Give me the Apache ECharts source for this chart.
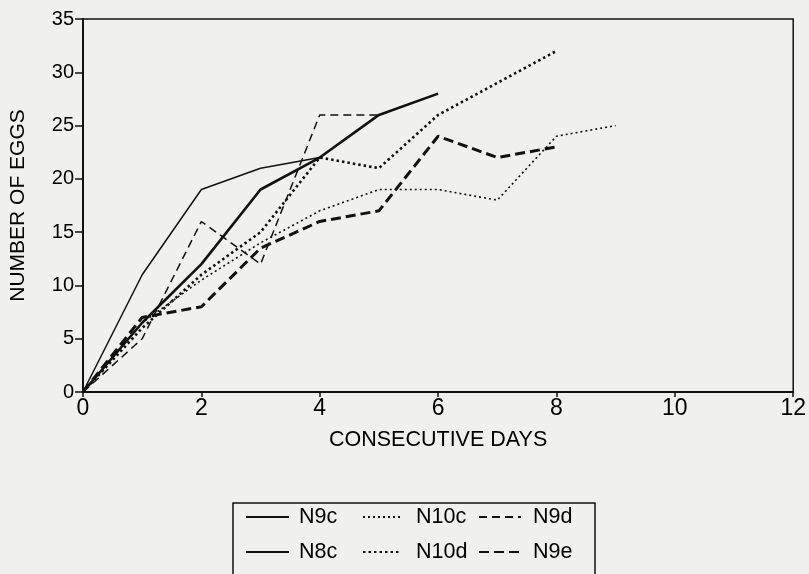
<!DOCTYPE html>
<html>
<head>
<meta charset="utf-8">
<script src="https://cdn.jsdelivr.net/npm/echarts@6/dist/echarts.min.js"></script>
<style>
  html, body { margin: 0; padding: 0; background: #f0f0ee; }
  #chart { width: 809px; height: 574px; }
</style>
</head>
<body>
<div id="chart"></div>
<script>
// days since start
const days = [0, 1, 2, 3, 4, 5, 6, 7, 8, 9]
const n9c = [0, 11, 19, 21, 22]
const n8c = [0, 6.5, 12, 19, 22, 26, 28]
const n10c = [0, 6.5, 10.5, 14, 17, 19, 19, 18, 24, 25]
const n10d = [0, 6, 11, 15, 22, 21, 26, 29, 32]
const n9d = [0, 5, 16, 12, 26, 26]
const n9e = [0, 7, 8, 13.5, 16, 17, 24, 22, 23]

const xTicks = [0, 2, 4, 6, 8, 10, 12]
const yTicks = [0, 5, 10, 15, 20, 25, 30, 35]

const ink = '#000'
const font = '"Liberation Sans", Arial, sans-serif'

const pairs = vals => vals.map((v, i) => [days[i], v])

function line(name, vals, width, type) {
  return {
    name,
    type: 'line',
    data: pairs(vals),
    symbol: 'none',
    showSymbol: false,
    lineStyle: { color: '#111', width, type },
    itemStyle: { color: '#111' },
    z: 3,
  }
}

const chart = echarts.init(document.getElementById('chart'))

function legendCol(left, iconW, textGap, names) {
  return {
    orient: 'vertical',
    left,
    top: 506,
    itemWidth: iconW,
    itemHeight: 14,
    itemGap: 13,
    padding: 0,
    itemStyle: { opacity: 0 },
    textStyle: { color: ink, fontSize: 21.5, fontFamily: font, padding: [0, 0, 0, textGap] },
    selectedMode: false,
    data: names,
  }
}

chart.setOption({
  animation: false,
  backgroundColor: '#f0f0ee',
  textStyle: { fontFamily: font },
  grid: {
    left: 78, right: 13, top: 19, bottom: 182,
    show: true, borderColor: '#111', borderWidth: 1.5, backgroundColor: 'transparent',
  },
  xAxis: {
    type: 'value',
    min: xTicks[0], max: xTicks[xTicks.length - 1], interval: 2,
    name: 'CONSECUTIVE DAYS',
    nameLocation: 'middle',
    nameGap: 37,
    nameTextStyle: { color: ink, fontSize: 21.5, fontFamily: font },
    axisLine: { lineStyle: { color: '#111', width: 2 } },
    axisTick: { show: true, length: 5, lineStyle: { color: '#111', width: 1.5 } },
    axisLabel: { color: ink, fontSize: 23, fontFamily: font, margin: 5 },
    splitLine: { show: false },
  },
  yAxis: {
    type: 'value',
    min: yTicks[0], max: yTicks[yTicks.length - 1], interval: 5,
    name: 'NUMBER OF EGGS',
    nameLocation: 'middle',
    nameGap: 54,
    nameRotate: 90,
    nameTextStyle: { color: ink, fontSize: 21, fontFamily: font },
    axisLine: { lineStyle: { color: '#111', width: 2 } },
    axisTick: { show: true, length: 8, lineStyle: { color: '#111', width: 1.5 } },
    axisLabel: { color: ink, fontSize: 20, fontFamily: font, margin: 9 },
    splitLine: { show: false },
  },
  legend: [
    legendCol(245, 43, 5, ['N9c', 'N8c']),
    legendCol(362, 38, 10, ['N10c', 'N10d']),
    legendCol(478, 42, 7, ['N9d', 'N9e']),
  ],
  graphic: [{
    type: 'rect',
    shape: { x: 233, y: 503, width: 362, height: 90 },
    style: { fill: 'transparent', stroke: '#111', lineWidth: 1.5 },
  }],
  series: [
    line('N9c', n9c, 1.5, 'solid'),
    line('N8c', n8c, 2.6, 'solid'),
    line('N10c', n10c, 1.6, [2, 3]),
    line('N10d', n10d, 2.6, [2.5, 3]),
    line('N9d', n9d, 1.5, [8, 5]),
    line('N9e', n9e, 3, [10, 5]),
  ],
})
</script>
</body>
</html>
